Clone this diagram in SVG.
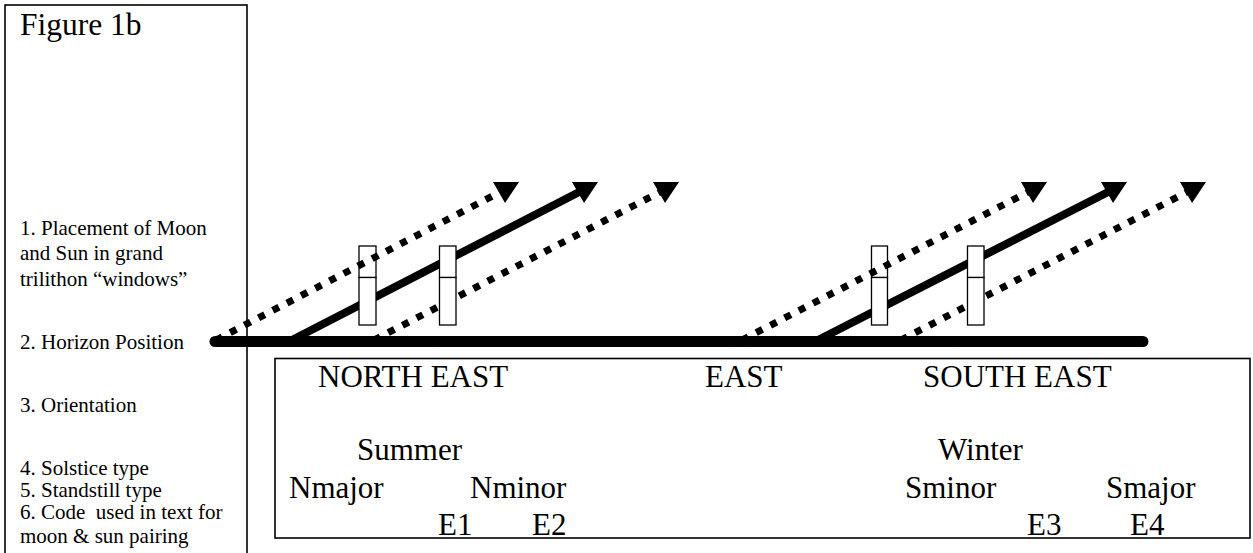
<svg xmlns="http://www.w3.org/2000/svg" width="1253" height="553" viewBox="0 0 1253 553">
  <style>
    .frame { fill: none; stroke: #000; stroke-width: 1.6; }
    .lbl { font-family: "Liberation Serif", "Times New Roman", serif; font-size: 21px; fill: #000; }
    .big { font-family: "Liberation Serif", "Times New Roman", serif; font-size: 31px; fill: #000; }
    .ray { fill: none; stroke: #000; stroke-width: 8; marker-end: url(#head); }
    .dots { fill: none; stroke: #000; stroke-width: 7; stroke-dasharray: 7 9; marker-end: url(#head); }
    .stone { fill: #fff; stroke: #000; stroke-width: 1.3; }
    .horizon { stroke: #000; stroke-width: 11; stroke-linecap: round; }
  </style>
  <defs>
    <marker id="head" markerUnits="userSpaceOnUse" orient="0" markerWidth="40" markerHeight="40" refX="20" refY="20" viewBox="0 0 40 40" overflow="visible">
      <path d="M7,13 L33,13 L19,34 Z" fill="#000"/>
    </marker>
  </defs>
  <rect width="1253" height="553" fill="#fff"/>

  <!-- legend column -->
  <g id="legend">
    <rect class="frame" x="5" y="5" width="242" height="560"/>
    <text class="big" x="20" y="35" style="font-size:31.5px">Figure 1b</text>
    <text class="lbl" x="20" y="235">1. Placement of Moon</text>
    <text class="lbl" x="20" y="260">and Sun in grand</text>
    <text class="lbl" x="20" y="286">trilithon “windows”</text>
    <text class="lbl" x="20" y="349">2. Horizon Position</text>
    <text class="lbl" x="20" y="412">3. Orientation</text>
    <text class="lbl" x="20" y="475">4. Solstice type</text>
    <text class="lbl" x="20" y="497">5. Standstill type</text>
    <text class="lbl" x="20" y="519">6. Code&#160; used in text for</text>
    <text class="lbl" x="20" y="543">moon &amp; sun pairing</text>
  </g>

  <!-- sight lines: solid = sun, dotted = moon -->
  <g id="connectors">
    <line class="ray" x1="292" y1="340" x2="585" y2="189"/>
    <line class="dots" x1="374" y1="340" x2="666" y2="189"/>
    <line class="ray" x1="818" y1="340" x2="1114" y2="189"/>
    <line class="dots" x1="901" y1="340" x2="1193" y2="189"/>
  </g>

  <!-- trilithon uprights -->
  <g id="trilithon-ne">
    <rect class="stone" x="359" y="246" width="17" height="31.5"/>
    <rect class="stone" x="359" y="277.5" width="17" height="47.5"/>
    <rect class="stone" x="439.5" y="246" width="16.5" height="31.5"/>
    <rect class="stone" x="439.5" y="277.5" width="16.5" height="47.5"/>
  </g>
  <g id="trilithon-se">
    <rect class="stone" x="871.5" y="246" width="16" height="31.5"/>
    <rect class="stone" x="871.5" y="277.5" width="16" height="47.5"/>
    <rect class="stone" x="967.5" y="246" width="16.5" height="31.5"/>
    <rect class="stone" x="967.5" y="277.5" width="16.5" height="47.5"/>
  </g>

  <g id="connectors-upper">
    <line class="dots" x1="216" y1="340" x2="506" y2="189"/>
    <line class="dots" x1="742" y1="340" x2="1034" y2="189"/>
  </g>

  <!-- horizon -->
  <g id="horizon">
    <line class="horizon" x1="215" y1="341.5" x2="1143" y2="341.5"/>
  </g>

  <!-- orientation panel -->
  <g id="orientation">
    <rect class="frame" x="275" y="358.5" width="975" height="179.5"/>
    <text class="big" x="318" y="387">NORTH EAST</text>
    <text class="big" x="705" y="387">EAST</text>
    <text class="big" x="923" y="387">SOUTH EAST</text>
    <text class="big" x="357" y="460">Summer</text>
    <text class="big" x="938" y="460">Winter</text>
    <text class="big" x="289" y="498">Nmajor</text>
    <text class="big" x="470" y="498">Nminor</text>
    <text class="big" x="905" y="498">Sminor</text>
    <text class="big" x="1106" y="498">Smajor</text>
    <text class="big" x="438" y="535">E1</text>
    <text class="big" x="532" y="535">E2</text>
    <text class="big" x="1027" y="535">E3</text>
    <text class="big" x="1130" y="535">E4</text>
  </g>
</svg>
